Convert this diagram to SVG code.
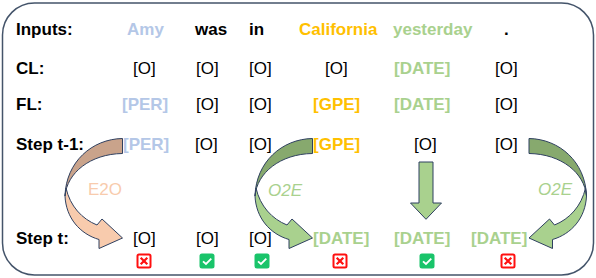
<svg xmlns="http://www.w3.org/2000/svg" width="596" height="278" viewBox="0 0 596 278">
<defs>
<style>
text{font-family:"Liberation Sans",Arial,sans-serif;font-size:17px;fill:#000}
.b{font-weight:bold}
.blue{fill:#B4C7E7;font-weight:bold}
.gold{fill:#FFC000;font-weight:bold}
.green{fill:#A9D18E;font-weight:bold}
.lbl{font-style:italic;font-size:17px}
.arr{stroke:#2F4060;stroke-width:1;stroke-linejoin:round}
</style>
<g id="cross"><rect x="-6.5" y="-6.5" width="13" height="13" rx="1.5" fill="#fff" stroke="#FF1010" stroke-width="2"/><path d="M-3.3-3.3L3.3 3.3M3.3-3.3L-3.3 3.3" stroke="#FF1010" stroke-width="2.2"/></g>
<g id="check"><rect x="-7.5" y="-7.5" width="15" height="15" rx="2.5" fill="#19C46A"/><path d="M-4 0.3L-1 3L4.3-2.3" fill="none" stroke="#fff" stroke-width="1.8"/></g>
<path id="front" class="arr" d="M66 188C70 206 82 219 97 225L102 219L122.5 238L99 248.5L99 239.5C80 234 66 218 65 196Z"/>
<path id="back" class="arr" d="M122.5 138.5C92 139 66 162 65 196C67 173 90 154 122.5 153.5Z"/>
</defs>
<rect id="frame" x="2.5" y="3" width="591" height="272" rx="32" fill="#fff" stroke="#44546A" stroke-width="1.5"/>
<g id="connectors">
<g id="e2o"><use href="#front" fill="#F8CBAD"/><use href="#back" fill="#C9A38B"/></g>
<g id="o2e-mid" transform="translate(190,0)"><use href="#front" fill="#A9D18E"/><use href="#back" fill="#87A96E"/></g>
<g id="o2e-right" transform="translate(651.5,0) scale(-1,1)"><use href="#front" fill="#A9D18E"/><use href="#back" fill="#87A96E"/></g>
<path id="down" class="arr" fill="#A9D18E" d="M419 162H433V203H441.5L426 219.3L410.5 203H419Z"/>
<text x="88" y="195" style="fill:#F8CBAD">E2O</text>
<text class="lbl" x="268" y="196" style="fill:#A9D18E">O2E</text>
<text class="lbl" x="538" y="195" style="fill:#A9D18E">O2E</text>
</g>
<g id="row-inputs">
<text class="b" x="16" y="35">Inputs:</text>
<text class="blue" x="127" y="35">Amy</text>
<text class="b" x="195" y="35">was</text>
<text class="b" x="249" y="35">in</text>
<text class="gold" x="299" y="35">California</text>
<text class="green" x="393" y="35">yesterday</text>
<text class="b" x="504" y="35">.</text>
</g>
<g id="row-cl">
<text class="b" x="16" y="74">CL:</text>
<text x="133" y="74">[O]</text>
<text x="196" y="74">[O]</text>
<text x="249" y="74">[O]</text>
<text x="325" y="74">[O]</text>
<text class="green" x="394" y="74">[DATE]</text>
<text x="495" y="74">[O]</text>
</g>
<g id="row-fl">
<text class="b" x="16" y="110">FL:</text>
<text class="blue" x="122" y="110">[PER]</text>
<text x="196" y="110">[O]</text>
<text x="249" y="110">[O]</text>
<text class="gold" x="313" y="110">[GPE]</text>
<text class="green" x="394" y="110">[DATE]</text>
<text x="495" y="110">[O]</text>
</g>
<g id="row-step-t-1">
<text class="b" x="16" y="150">Step t-1:</text>
<text class="blue" x="123" y="150">[PER]</text>
<text x="195" y="150">[O]</text>
<text x="249" y="150">[O]</text>
<text class="gold" x="313" y="150">[GPE]</text>
<text x="414" y="150">[O]</text>
<text x="495" y="150">[O]</text>
</g>
<g id="row-step-t">
<text class="b" x="16" y="244">Step t:</text>
<text x="133" y="244">[O]</text>
<text x="196" y="244">[O]</text>
<text x="249" y="244">[O]</text>
<text class="green" x="313" y="244">[DATE]</text>
<text class="green" x="394" y="244">[DATE]</text>
<text class="green" x="471" y="244">[DATE]</text>
</g>
<g id="marks">
<use href="#cross" x="144" y="261"/>
<use href="#check" x="207" y="261"/>
<use href="#check" x="262" y="261"/>
<use href="#cross" x="340" y="261"/>
<use href="#check" x="427" y="261"/>
<use href="#cross" x="508" y="261"/>
</g>
</svg>
